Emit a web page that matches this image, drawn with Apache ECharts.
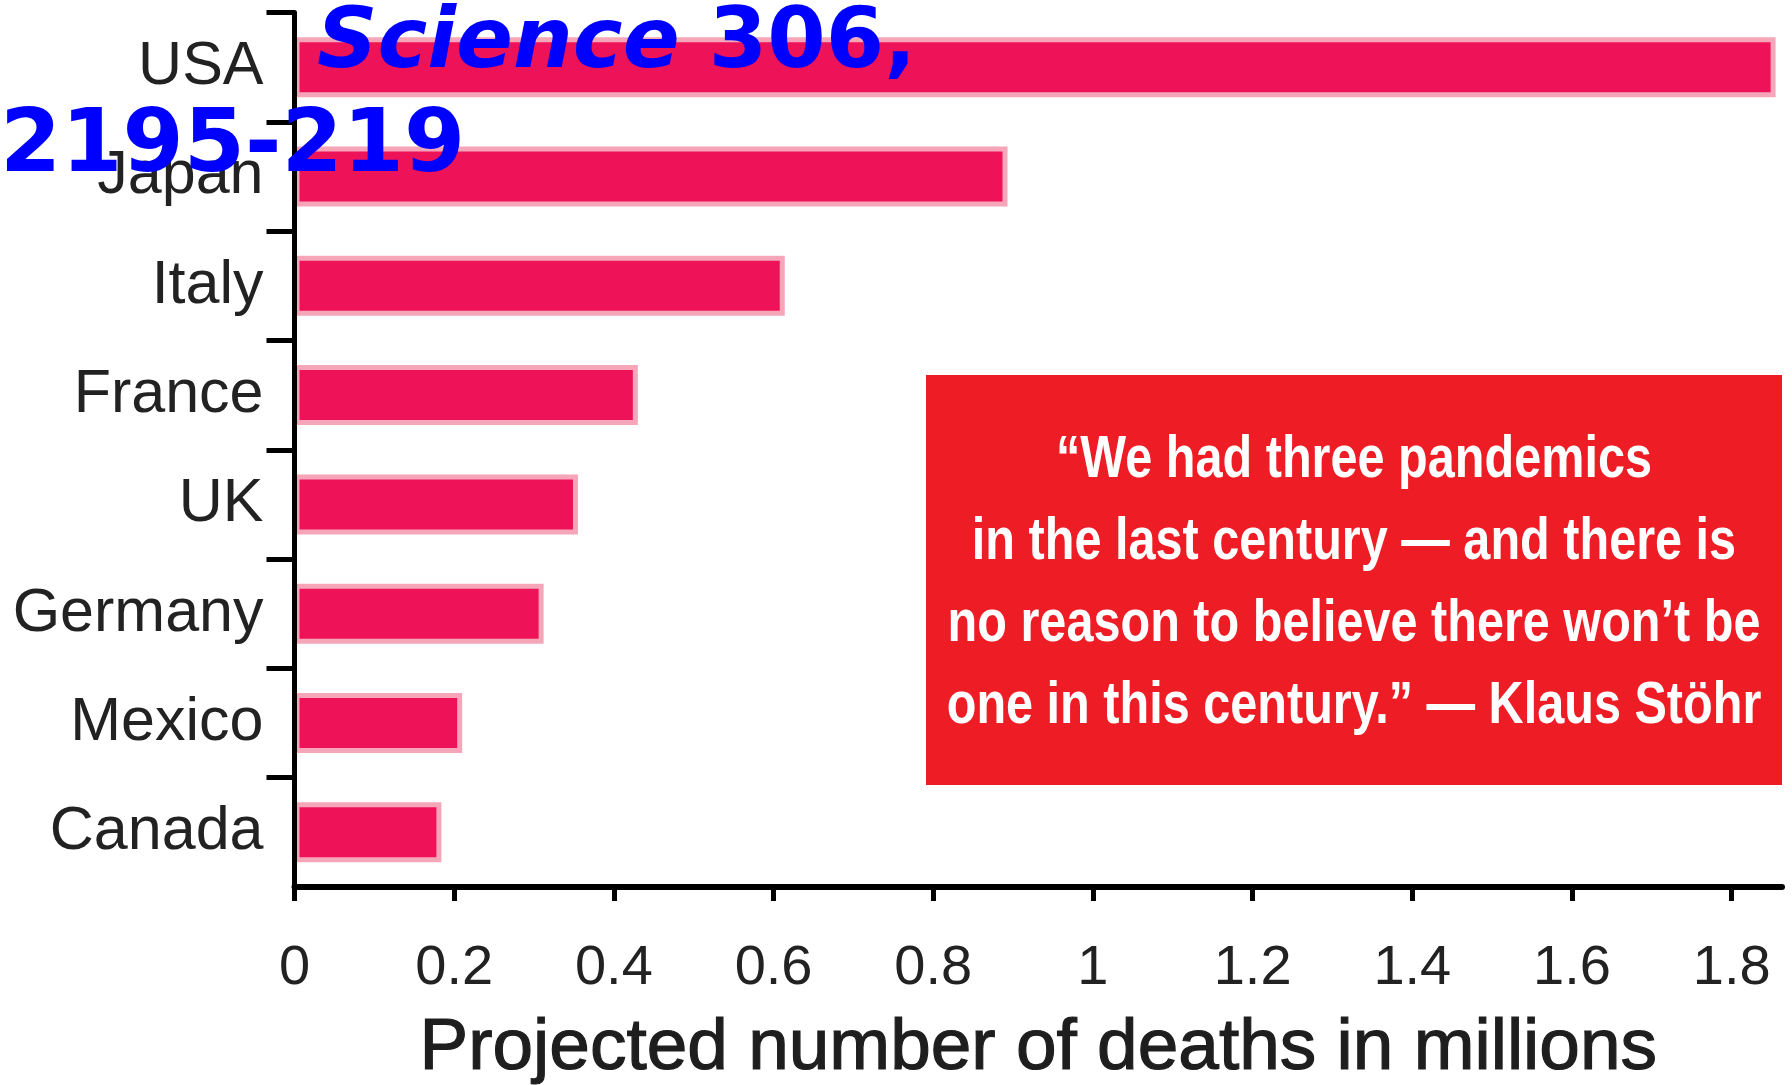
<!DOCTYPE html>
<html>
<head>
<meta charset="utf-8">
<script src="https://cdn.jsdelivr.net/npm/echarts@6/dist/echarts.min.js"></script>
<style>
  html, body { margin: 0; padding: 0; background: #ffffff; }
  #chart { width: 1792px; height: 1085px; }
</style>
</head>
<body>
<div id="chart"></div>
<script>
// Projected pandemic deaths by country, in millions
const countries = ['USA', 'Japan', 'Italy', 'France', 'UK', 'Germany', 'Mexico', 'Canada'];
const deaths = [1.855, 0.893, 0.614, 0.43, 0.355, 0.312, 0.21, 0.184];
const xTicks = [0, 0.2, 0.4, 0.6, 0.8, 1, 1.2, 1.4, 1.6, 1.8];
const axisTitle = 'Projected number of deaths in millions';
const quoteLines = [
  '\u201CWe had three pandemics',
  'in the last century \u2014 and there is',
  'no reason to believe there won\u2019t be',
  'one in this century.\u201D \u2014 Klaus St\u00F6hr'
];
const citation = ['{it|Science} 306,', '2195-219'];

// band boundaries above each category get a tick (none under the last one)
const bandTicks = countries.map((c, i) => i);

// Prefer a narrow sans for the labels when it is installed
function hasFont(name) {
  const ctx = document.createElement('canvas').getContext('2d');
  const s = 'Germany 0.123456789 Wm';
  ctx.font = '72px monospace';
  const a = ctx.measureText(s).width;
  ctx.font = '72px "' + name + '", monospace';
  const b = ctx.measureText(s).width;
  return Math.abs(a - b) > 0.5;
}
const hasNarrow = hasFont('Liberation Sans Narrow');
const labelFamily = hasNarrow ? '"Liberation Sans Narrow"' : '"Liberation Sans"';
const catSize = hasNarrow ? 70 : 61;
const tickSize = hasNarrow ? 64 : 56;
const quoteScale = hasNarrow ? 1.0 : 0.81;

const chart = echarts.init(document.getElementById('chart'), null, { renderer: 'canvas' });

const option = {
  backgroundColor: '#ffffff',
  animation: false,
  grid: { left: 294.5, right: 10, top: 12.5, bottom: 198, outerBoundsMode: 'none', containLabel: false },
  xAxis: {
    type: 'value',
    position: 'bottom',
    min: 0,
    max: 1.863,
    interval: 0.2,
    z: 5,
    splitLine: { show: false },
    axisLine: { show: true, onZero: false, lineStyle: { color: '#000', width: 6 } },
    axisTick: { show: true, length: 14, lineStyle: { color: '#000', width: 5 }, customValues: xTicks },
    axisLabel: {
      customValues: xTicks,
      margin: 54,
      color: '#222',
      fontFamily: labelFamily,
      fontSize: tickSize,
      formatter: v => String(Math.round(v * 10) / 10)
    },
    name: axisTitle,
    nameLocation: 'middle',
    nameGap: 125,
    nameTextStyle: {
      color: '#1e1e1e', fontFamily: '"Liberation Sans"', fontSize: 73,
      textBorderColor: '#1e1e1e', textBorderWidth: 1.2
    }
  },
  yAxis: [
    {
      type: 'category',
      data: countries,
      inverse: true,
      position: 'left',
      z: 5,
      axisLine: { show: true, onZero: false, lineStyle: { color: '#000', width: 5 } },
      axisTick: { show: false },
      axisLabel: {
        margin: 31,
        color: '#222',
        fontFamily: labelFamily,
        fontSize: catSize,
        padding: [0, 0, 18, 0]
      }
    },
    {
      // carries the band-boundary ticks on the left edge
      type: 'value',
      min: 0,
      max: countries.length,
      interval: 1,
      inverse: true,
      position: 'left',
      z: 5,
      splitLine: { show: false },
      axisLine: { show: false, onZero: false },
      axisLabel: { show: false },
      axisTick: { show: true, length: 28, lineStyle: { color: '#000', width: 5 }, customValues: bandTicks }
    }
  ],
  series: [{
    type: 'bar',
    yAxisIndex: 0,
    data: deaths,
    barWidth: 60,
    itemStyle: { color: '#EE1358', borderColor: '#f5a6b9', borderWidth: 5 }
  }],
  graphic: [
    {
      type: 'rect',
      left: 926, top: 375, z: 10,
      shape: { width: 856, height: 410 },
      style: { fill: '#EE1D25' }
    },
    {
      type: 'text',
      x: 1354, y: 583, z: 11,
      scaleX: quoteScale,
      style: {
        text: quoteLines.join('\n'),
        fill: '#ffffff',
        fontFamily: hasNarrow ? '"Liberation Sans Narrow"' : '"Liberation Sans"',
        fontWeight: 'bold',
        fontSize: 60,
        lineHeight: 82,
        align: 'center',
        verticalAlign: 'middle'
      }
    },
    {
      type: 'text',
      x: 317, y: 3, z: 12,
      style: {
        text: citation[0],
        fill: '#0000FF',
        fontFamily: '"DejaVu Sans"',
        fontWeight: 'bold',
        fontSize: 84,
        align: 'left',
        verticalAlign: 'top',
        rich: { it: { fontStyle: 'italic', fontWeight: 'bold', fontFamily: '"DejaVu Sans"', fontSize: 84, fill: '#0000FF' } }
      }
    },
    {
      type: 'text',
      x: 0, y: 104, z: 12,
      style: {
        text: citation[1],
        fill: '#0000FF',
        fontFamily: '"DejaVu Sans"',
        fontWeight: 'bold',
        fontSize: 88,
        align: 'left',
        verticalAlign: 'top'
      }
    }
  ]
};

chart.setOption(option);
</script>
</body>
</html>
